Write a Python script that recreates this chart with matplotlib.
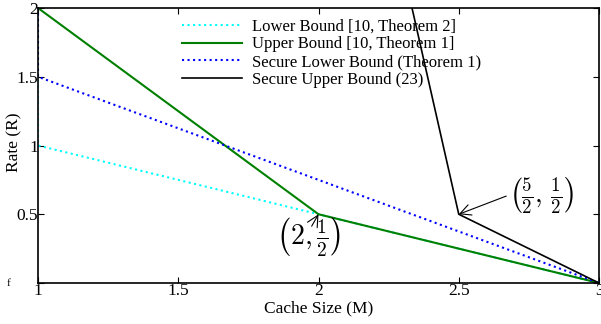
import matplotlib
matplotlib.use("Agg")
from matplotlib import pyplot as plt

plt.rcParams['font.family'] = ['Liberation Serif', 'DejaVu Serif']
plt.rcParams['mathtext.fontset'] = 'cm'

# data
lower_M = [1, 1, 2, 3]
lower_R = [2, 1, 0.5, 0]
upper_M = [1, 2, 3]
upper_R = [2, 0.5, 0]
sec_lower_M = [1, 1, 3]
sec_lower_R = [2, 1.5, 0]
sec_upper_M = [2, 2.5, 3]
sec_upper_R = [5, 0.5, 0]

xticks = [1, 1.5, 2, 2.5, 3]
xticklabels = ['1', '1.5', '2', '2.5', '3']
yticks = [0, 0.5, 1, 1.5, 2]
yticklabels = ['f', '0.5', '1', '1.5', '2']

fig = plt.figure(figsize=(6.01, 3.24), dpi=100)
ax = fig.add_axes([38/601, 1-283/324, 561/601, 275/324])

ax.plot(lower_M, lower_R, color='cyan', ls=':', lw=1.5, label='Lower Bound [10, Theorem 2]')
ax.plot(upper_M, upper_R, color='green', ls='-', lw=1.5, label='Upper Bound [10, Theorem 1]')
ax.plot(sec_lower_M, sec_lower_R, color='blue', ls=':', lw=1.5, label='Secure Lower Bound (Theorem 1)')
ax.plot(sec_upper_M, sec_upper_R, color='black', ls='-', lw=1.2, label='Secure Upper Bound (23)')

ax.set_xlim(1, 3)
ax.set_ylim(0, 2)
ax.set_xticks(xticks)
ax.set_xticklabels(xticklabels)
ax.set_yticks(yticks)
ax.set_yticklabels(yticklabels)
ax.tick_params(direction='in', top=True, right=True, labelsize=12.5, length=4, pad=0)
for lab in ax.get_yticklabels():
    if lab.get_text() == 'f':
        lab.set_fontsize(8)
        lab.set_x(-0.05)
for s in ax.spines.values():
    s.set_linewidth(1.2)

ax.set_xlabel('Cache Size (M)', fontsize=12.5, labelpad=1)
ax.set_ylabel('Rate (R)', fontsize=12.5)
ax.yaxis.set_label_coords(-0.0285, 0.51)

ax.legend(loc='upper left', bbox_to_anchor=(0.244, 0.985), frameon=False, fontsize=12,
          handlelength=3.6, handletextpad=0.6, labelspacing=0.1, borderaxespad=0)

ax.annotate(r'$\left(2,\frac{1}{2}\right)$', xy=(2, 0.5), xytext=(1.964, 0.335),
            fontsize=20, ha='center', va='center',
            arrowprops=dict(arrowstyle='->', color='black', lw=0.8, shrinkA=0, shrinkB=0,
                            relpos=(0.55, 0.75)))
ax.annotate(r'$\left(\frac{5}{2},\,\frac{1}{2}\right)$', xy=(2.5, 0.5), xytext=(2.796, 0.64),
            fontsize=19.5, ha='center', va='center',
            arrowprops=dict(arrowstyle='->', color='black', lw=0.8, shrinkA=0, shrinkB=0,
                            relpos=(0.0, 0.5)))

fig.savefig('out.png', dpi=100)
